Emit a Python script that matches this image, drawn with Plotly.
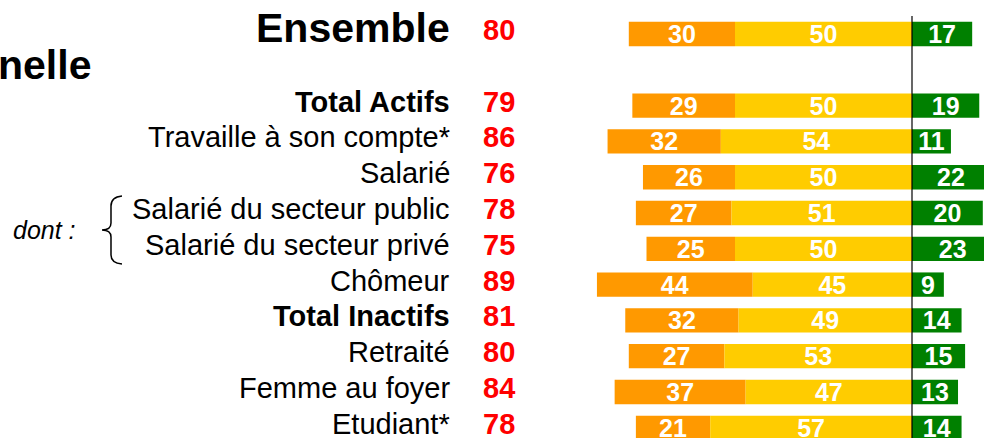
import plotly.graph_objects as go

categories = ["Ensemble", "Total Actifs", "Travaille à son compte*", "Salarié",
              "Salarié du secteur public", "Salarié du secteur privé", "Chômeur",
              "Total Inactifs", "Retraité", "Femme au foyer", "Etudiant*"]
totals = [80, 79, 86, 76, 78, 75, 89, 81, 80, 84, 78]
orange = [30, 29, 32, 26, 27, 25, 44, 32, 27, 37, 21]
yellow = [50, 50, 54, 50, 51, 50, 45, 49, 53, 47, 57]
green = [17, 19, 11, 22, 20, 23, 9, 14, 15, 13, 14]
bold_rows = ["Ensemble", "Total Actifs", "Total Inactifs"]

W, H = 984, 438
FONT = "Liberation Sans, Arial, sans-serif"

# row positions: Ensemble, then a blank row, then the rest
ypos = [0] + list(range(2, len(categories) + 1))

def px(x, y):
    return f"{x / W:.5f},{1 - y / H:.5f}"

fig = go.Figure()
bar_common = dict(orientation="h", width=0.68, textposition="inside",
                  insidetextanchor="middle", constraintext="none", textangle=0,
                  textfont=dict(family=FONT, size=25, color="white"),
                  hoverinfo="skip", marker_line_width=0)

fig.add_trace(go.Bar(y=ypos, x=orange, base=[-(o + yv) for o, yv in zip(orange, yellow)],
                     marker_color="#FF9900", text=[f"<b>{v}</b>" for v in orange], **bar_common))
fig.add_trace(go.Bar(y=ypos, x=yellow, base=[-yv for yv in yellow],
                     marker_color="#FFCC00", text=[f"<b>{v}</b>" for v in yellow], **bar_common))
fig.add_trace(go.Bar(y=ypos, x=green, base=[0] * len(green),
                     marker_color="#008000", text=[f"<b>{v}</b>" for v in green], **bar_common))

annotations = []
for cat, tot, yp in zip(categories, totals, ypos):
    size = 41 if cat == "Ensemble" else 29
    txt = f"<b>{cat}</b>" if cat in bold_rows else cat
    annotations.append(dict(x=452 / W, xref="paper", y=yp, yref="y", text=txt,
                            xanchor="right", yanchor="middle", showarrow=False,
                            yshift=6 if cat == "Ensemble" else 4,
                            font=dict(family=FONT, size=size, color="black")))
    annotations.append(dict(x=499 / W, xref="paper", y=yp, yref="y", text=f"<b>{tot}</b>",
                            xanchor="center", yanchor="middle", showarrow=False,
                            yshift=4 if cat == "Ensemble" else 4,
                            font=dict(family=FONT, size=29, color="#FF0000")))

annotations.append(dict(x=-4 / W, xref="paper", y=1 - 65 / H, yref="paper", text="<b>nelle</b>",
                        xanchor="left", yanchor="middle", showarrow=False,
                        font=dict(family=FONT, size=41, color="black")))
annotations.append(dict(x=11 / W, xref="paper", y=1 - 230 / H, yref="paper", text="<i>dont :</i>",
                        xanchor="left", yanchor="middle", showarrow=False,
                        font=dict(family=FONT, size=25, color="black")))

brace = ("M " + px(122, 196) + " Q " + px(111, 197) + " " + px(111, 206) +
         " L " + px(111, 223) + " Q " + px(111, 230) + " " + px(102, 230) +
         " Q " + px(111, 230) + " " + px(111, 237) + " L " + px(111, 255) +
         " Q " + px(111, 263) + " " + px(122, 264))

shapes = [
    dict(type="line", xref="x", yref="paper", x0=0, x1=0, y0=0, y1=1 - 16 / H,
         line=dict(color="black", width=1.2)),
    dict(type="path", xref="paper", yref="paper", path=brace,
         line=dict(color="black", width=1.5)),
]

fig.update_layout(
    width=W, height=H, margin=dict(l=0, r=0, t=0, b=0),
    paper_bgcolor="white", plot_bgcolor="white", showlegend=False,
    barmode="overlay",
    xaxis=dict(range=[-912 / 3.54, (W - 912) / 3.54], visible=False, fixedrange=True),
    yaxis=dict(range=[11.285, -0.95], visible=False, fixedrange=True),
    annotations=annotations, shapes=shapes,
)

fig.write_html("out.html", config={"displayModeBar": False},
               post_script="document.body.style.margin='0';document.body.style.overflow='hidden';")
